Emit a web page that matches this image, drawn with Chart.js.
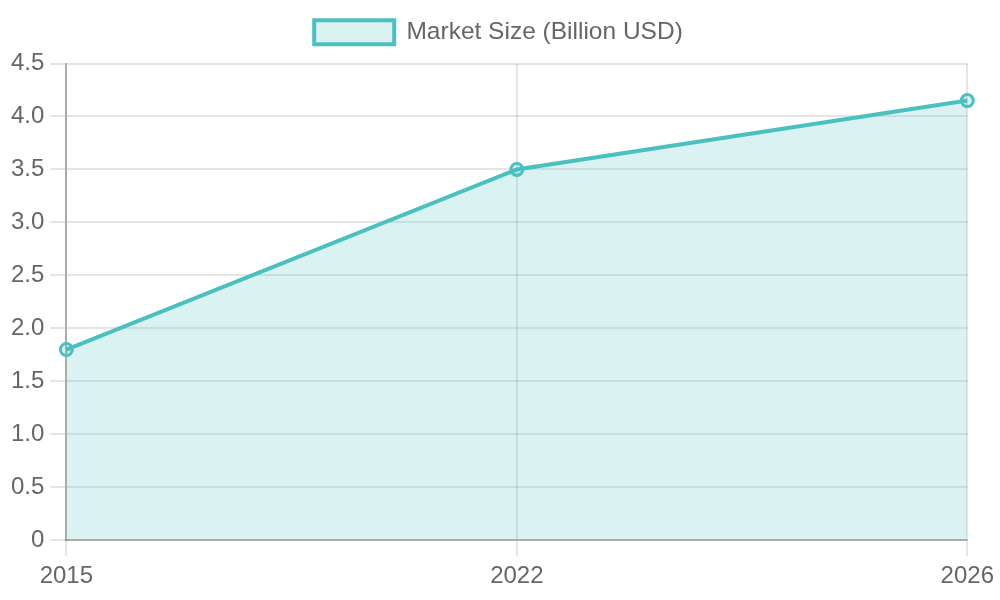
<!DOCTYPE html>
<html>
<head>
<meta charset="utf-8">
<script src="https://cdn.jsdelivr.net/npm/chart.js@4/dist/chart.umd.min.js"></script>
<style>
  html, body { margin: 0; padding: 0; background: #fff; }
  #wrap { width: 1000px; height: 600px; }
</style>
</head>
<body>
<div id="wrap"><canvas id="chart"></canvas></div>
<script>
const years = ["2015", "2022", "2026"];
const marketSize = [1.8, 3.5, 4.15];
const seriesLabel = "Market Size (Billion USD)";

Chart.defaults.font.family = "'Liberation Sans', Arial, sans-serif";
Chart.defaults.font.size = 24;
Chart.defaults.color = "#666";

// a bit more room under the legend
const legendGap = {
  id: "legendGap",
  beforeInit(chart) {
    const fit = chart.legend.fit;
    chart.legend.fit = function () {
      fit.bind(chart.legend)();
      this.height += 9;
    };
  },
};

new Chart(document.getElementById("chart"), {
  type: "line",
  data: {
    labels: years,
    datasets: [
      {
        label: seriesLabel,
        data: marketSize,
        borderColor: "rgb(75, 192, 192)",
        backgroundColor: "rgba(75, 192, 192, 0.2)",
        borderWidth: 4,
        pointRadius: 6,
        pointBorderWidth: 3,
        pointBackgroundColor: "rgba(75, 192, 192, 0.2)",
        fill: "origin",
        tension: 0,
      },
    ],
  },
  options: {
    responsive: true,
    maintainAspectRatio: false,
    animation: false,
    layout: { padding: { left: 5, right: 8, bottom: 3 } },
    plugins: {
      legend: {
        labels: { boxWidth: 80, boxHeight: 24, padding: 20, font: { size: 24.5 } },
      },
      tooltip: { enabled: false },
    },
    scales: {
      x: {
        grid: { lineWidth: 2, tickLength: 16 },
        border: { width: 2, color: "rgba(0, 0, 0, 0.25)" },
        ticks: { padding: 6 },
      },
      y: {
        min: 0,
        max: 4.5,
        ticks: { stepSize: 0.5, padding: 6 },
        grid: { lineWidth: 2, tickLength: 16 },
        border: { width: 2, color: "rgba(0, 0, 0, 0.25)" },
      },
    },
  },
  plugins: [legendGap],
});
</script>
</body>
</html>
